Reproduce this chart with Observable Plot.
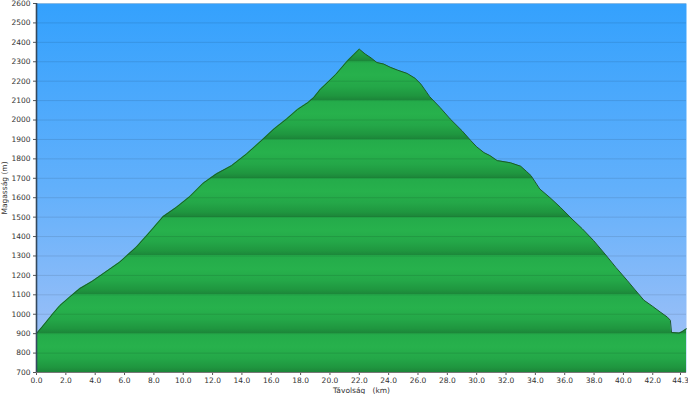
<!DOCTYPE html>
<html>
<head>
<meta charset="utf-8">
<script src="https://cdn.jsdelivr.net/npm/d3@7"></script>
<script src="https://cdn.jsdelivr.net/npm/@observablehq/plot@0.6"></script>
<style>
  html, body { margin: 0; padding: 0; background: #fff; }
  svg { display: block; }
</style>
</head>
<body>
<div id="chart"></div>
<script>
const distanceKm = [0, 0.5, 1.13, 1.6, 2.27, 2.95, 3.8, 4.54, 5.68, 6.81, 7.72, 8.63, 9.54, 10.45, 11.36, 12.27, 13.29, 14.31, 15.45, 16.2, 17.04, 17.8, 18.5, 18.9, 19.35, 19.6, 20.4, 21.2, 21.6, 22.0, 22.4, 22.8, 23.2, 23.67, 24.1, 24.6, 25.26, 25.8, 26.2, 26.8, 27.5, 28.2, 29.0, 29.6, 30.0, 30.5, 30.9, 31.4, 32.3, 33.0, 33.4, 33.7, 34.3, 35.0, 35.7, 36.5, 37.2, 37.96, 38.8, 39.5, 40.25, 40.8, 41.4, 42.0, 42.5, 43.0, 43.2, 43.28, 43.8, 44.0, 44.3];
const elevationM = [900, 945, 1004, 1045, 1089, 1132, 1170, 1209, 1269, 1346, 1423, 1503, 1551, 1606, 1675, 1723, 1765, 1825, 1902, 1955, 2005, 2055, 2090, 2116, 2159, 2176, 2235, 2305, 2335, 2365, 2340, 2320, 2296, 2288, 2272, 2257, 2240, 2215, 2185, 2120, 2065, 2005, 1945, 1894, 1862, 1832, 1817, 1791, 1780, 1762, 1735, 1714, 1645, 1600, 1551, 1490, 1440, 1380, 1305, 1240, 1175, 1125, 1072, 1040, 1012, 985, 969, 906, 903, 910, 925];
const xTicks = [0, 2, 4, 6, 8, 10, 12, 14, 16, 18, 20, 22, 24, 26, 28, 30, 32, 34, 36, 38, 40, 42];
const xEndTick = [44.3];
const yTicks = d3.range(700, 2601, 100);
const xLabel = "Távolság   (km)";
const yLabel = "Magasság (m)";

const profile = distanceKm.map((d, i) => ({km: d, m: elevationM[i]}));
const fmt = d3.format(".1f");

const chart = Plot.plot({
  width: 688,
  height: 394,
  marginLeft: 36,
  marginRight: 2,
  marginTop: 3,
  marginBottom: 22,
  style: {fontFamily: "Verdana, 'DejaVu Sans', sans-serif", fontSize: "7.5px", color: "#333", background: "#fff"},
  x: {domain: [0, 44.3]},
  y: {domain: [700, 2600]},
  marks: [
    Plot.frame({fill: "url(#bgGrad)", stroke: null}),
    Plot.areaY(profile, {x: "km", y1: 700, y2: "m", fill: "url(#greenGrad)"}),
    Plot.ruleY(yTicks, {stroke: "#000", strokeOpacity: 0.1, strokeWidth: 1}),
    Plot.line(profile, {x: "km", y: "m", stroke: "#1c5a2a", strokeWidth: 1}),
    Plot.axisY({ticks: yTicks, tickSize: 3, tickPadding: 3, tickFormat: d => String(d), label: yLabel, labelAnchor: "center", labelArrow: "none", labelOffset: 35, stroke: "#555"}),
    Plot.axisX({ticks: xTicks, tickSize: 3, tickPadding: 2, tickFormat: fmt, label: xLabel, labelAnchor: "center", labelArrow: "none", labelOffset: 20, stroke: "#555"}),
    Plot.axisX({ticks: xEndTick, tickSize: 3, tickPadding: 2, tickFormat: fmt, dx: -6, label: null, stroke: "#555"}),
    Plot.ruleX([0], {stroke: "#34495e", strokeWidth: 1.6}),
    Plot.ruleY([700], {stroke: "#777", strokeWidth: 1})
  ]
});

const ys = chart.scale("y");
const y0 = ys.apply(2500), y1 = ys.apply(2300);
const svg = d3.select(chart);
const defs = svg.insert("defs", ":first-child");
const bg = defs.append("linearGradient").attr("id", "bgGrad").attr("x1", 0).attr("y1", 0).attr("x2", 0).attr("y2", 1);
bg.append("stop").attr("offset", 0).attr("stop-color", "#34a1fd");
bg.append("stop").attr("offset", 0.5).attr("stop-color", "#62b0fb");
bg.append("stop").attr("offset", 1).attr("stop-color", "#a8c3f6");
const gg = defs.append("linearGradient").attr("id", "greenGrad")
  .attr("gradientUnits", "userSpaceOnUse").attr("spreadMethod", "repeat")
  .attr("x1", 0).attr("x2", 0).attr("y1", y0).attr("y2", y1);
[[0, "#24ab4a"], [0.35, "#27b14c"], [0.65, "#24a748"], [0.88, "#1f963f"], [1, "#1c8539"]]
  .forEach(([o, c]) => gg.append("stop").attr("offset", o).attr("stop-color", c));

document.getElementById("chart").append(chart);
</script>
</body>
</html>
